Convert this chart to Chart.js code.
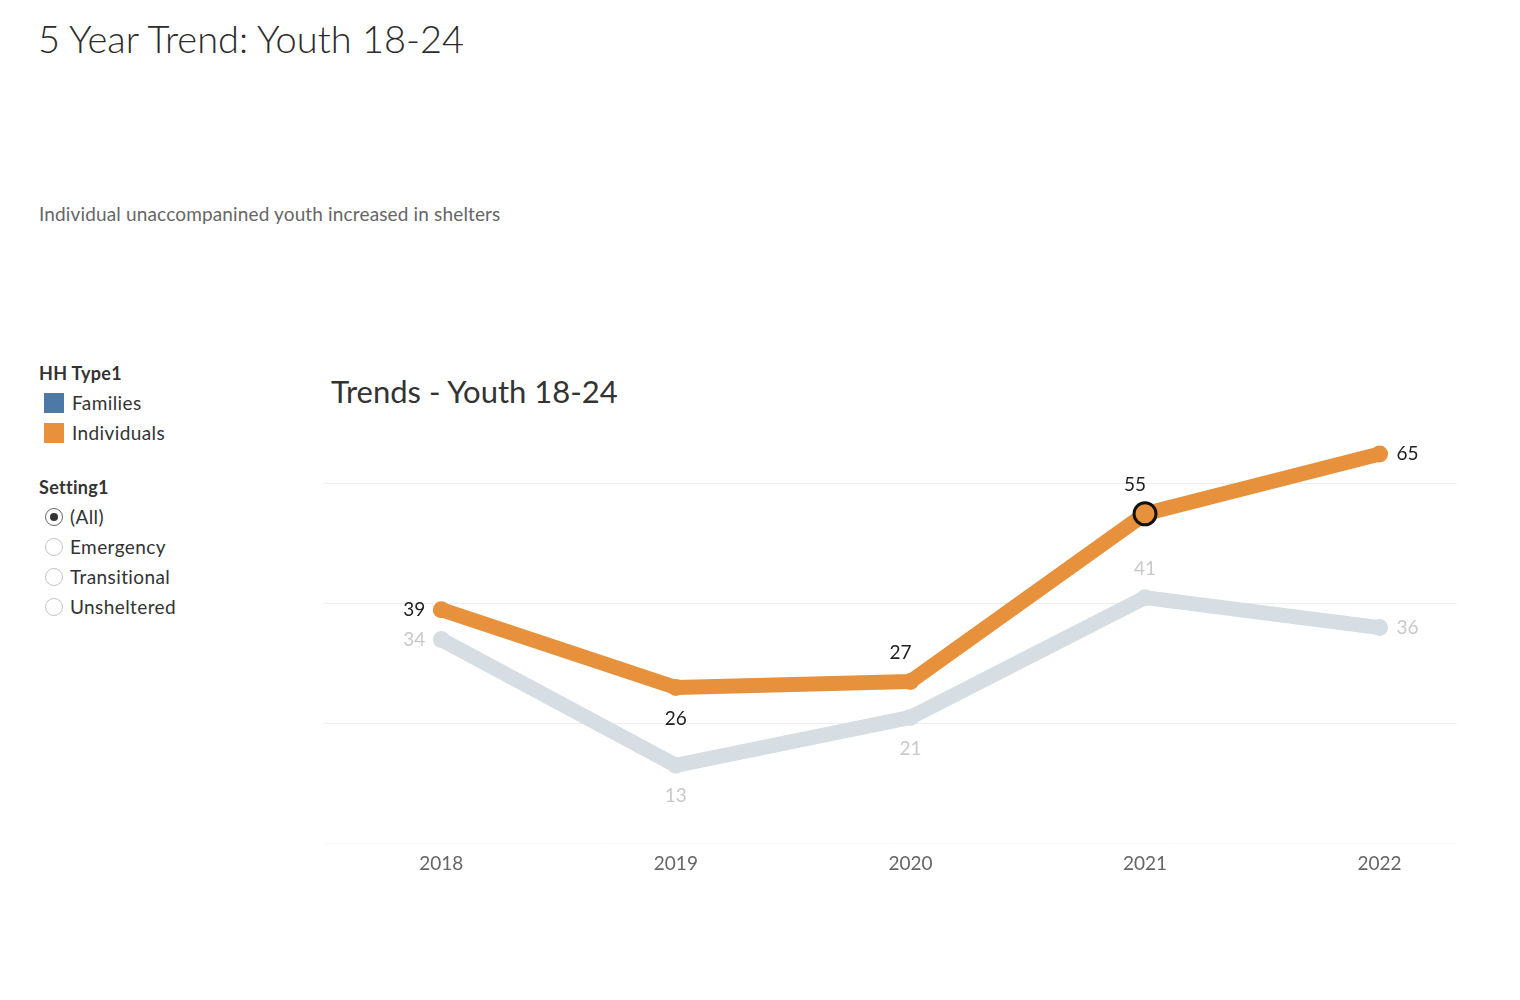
<!DOCTYPE html>
<html>
<head>
<meta charset="utf-8">
<script src="https://cdn.jsdelivr.net/npm/chart.js@4.4.1/dist/chart.umd.min.js"></script>
<style>
  body { margin: 0; background: #fff; font-family: Lato, sans-serif; color: #333; }
  .page { position: relative; width: 1520px; height: 1000px; }
  .title { position: absolute; left: 38px; top: 15px; font-size: 38px; font-weight: 300; color: #2b2b2b; white-space: nowrap; }
  .subtitle { position: absolute; left: 39px; top: 202px; font-size: 19px; letter-spacing: 0.15px; color: #666; white-space: nowrap; }
  .legend { position: absolute; left: 39px; top: 362px; font-size: 19px; letter-spacing: 0.4px; color: #333; }
  .legend h4 { margin: 0 0 4px 0; font-size: 18px; letter-spacing: 0.3px; font-weight: 700; color: #333; height: 22px; line-height: 22px; }
  .legend .row { height: 30px; line-height: 30px; display: flex; align-items: center; }
  .swatch { width: 20px; height: 20px; margin: 0 8px 0 5px; display: inline-block; }
  .radio { width: 18px; height: 18px; border: 1.5px solid #c4c4c4; border-radius: 50%; margin: 0 7px 0 6px; position: relative; box-sizing: border-box; }
  .radio.on { border-color: #666; }
  .radio.on::after { content: ""; position: absolute; left: 3.5px; top: 3.5px; width: 8px; height: 8px; border-radius: 50%; background: #333; }
  .charttitle { position: absolute; left: 331px; top: 372px; font-size: 31px; font-weight: 400; color: #333; white-space: nowrap; }
  .wrap { position: absolute; left: 300px; top: 400px; width: 1200px; height: 500px; }
</style>
</head>
<body>
<div class="page">
  <div class="title">5 Year Trend: Youth 18-24</div>
  <div class="subtitle">Individual unaccompanined youth increased in shelters</div>
  <div class="legend">
    <h4>HH Type1</h4>
    <div class="row"><span class="swatch" style="background:#4E79A7"></span>Families</div>
    <div class="row"><span class="swatch" style="background:#E8913C"></span>Individuals</div>
    <div style="height:28px"></div>
    <h4>Setting1</h4>
    <div class="row"><span class="radio on"></span>(All)</div>
    <div class="row"><span class="radio"></span>Emergency</div>
    <div class="row"><span class="radio"></span>Transitional</div>
    <div class="row"><span class="radio"></span>Unsheltered</div>
  </div>
  <div class="charttitle">Trends - Youth 18-24</div>
  <div class="wrap"><canvas id="trendChart" width="1200" height="500"></canvas></div>
</div>
<script>
// Chart data
const years = [2018, 2019, 2020, 2021, 2022];
const individuals = [39, 26, 27, 55, 65];
const families = [34, 13, 21, 41, 36];
const yTicks = [0, 20, 40, 60];
const highlightYear = 2021;

// where each value label sits relative to its point
const individualsLabelPos = ['left', 'below', 'above', 'above', 'right'];
const familiesLabelPos = ['left', 'below', 'below', 'above', 'right'];

const valueLabels = {
    id: 'valueLabels',
    afterDatasetsDraw(chart) {
        const ctx = chart.ctx;
        ctx.save();
        ctx.font = '19px Lato, sans-serif';
        ctx.textBaseline = 'middle';
        chart.data.datasets.forEach((ds, i) => {
            const meta = chart.getDatasetMeta(i);
            meta.data.forEach((pt, j) => {
                const pos = ds.labelPos[j];
                let x = pt.x, y = pt.y;
                ctx.textAlign = 'center';
                if (pos === 'left') { x -= 27; }
                if (pos === 'right') { x += 28; }
                if (pos === 'above') { y -= 29; x += ds.aboveShift; }
                if (pos === 'below') { y += 31; }
                ctx.fillStyle = ds.labelColor;
                ctx.fillText(ds.data[j].y, x, y);
            });
        });
        ctx.restore();
    }
};

document.addEventListener('DOMContentLoaded', function() {
    const ctx = document.getElementById('trendChart').getContext('2d');
    const highlightIdx = years.indexOf(highlightYear);

    const trendChart = new Chart(ctx, {
        type: 'line',
        data: {
            datasets: [
                {
                    label: 'Individuals',
                    data: years.map((y, i) => ({ x: y, y: individuals[i] })),
                    borderColor: '#E8913C',
                    backgroundColor: '#E8913C',
                    borderWidth: 15,
                    borderCapStyle: 'round',
                    borderJoinStyle: 'round',
                    pointRadius: c => c.dataIndex === highlightIdx ? 11 : 8.5,
                    pointBorderWidth: c => c.dataIndex === highlightIdx ? 3 : 0,
                    pointBorderColor: '#111',
                    pointBackgroundColor: '#E8913C',
                    labelPos: individualsLabelPos,
                    labelColor: '#222',
                    aboveShift: -10
                },
                {
                    label: 'Families',
                    data: years.map((y, i) => ({ x: y, y: families[i] })),
                    borderColor: '#D6DEE4',
                    backgroundColor: '#D6DEE4',
                    borderWidth: 15,
                    borderCapStyle: 'round',
                    borderJoinStyle: 'round',
                    pointRadius: 8.5,
                    pointBorderWidth: 0,
                    pointBackgroundColor: '#D6DEE4',
                    labelPos: familiesLabelPos,
                    labelColor: '#C9C9C9',
                    aboveShift: 0
                }
            ]
        },
        options: {
            responsive: false,
            animation: false,
            layout: {
                padding: { left: 24, right: 43, top: 24, bottom: 16 }
            },
            plugins: {
                legend: { display: false },
                tooltip: { enabled: false }
            },
            scales: {
                x: {
                    type: 'linear',
                    min: 2017.5,
                    max: 2022.33,
                    afterBuildTicks: s => { s.ticks = years.map(v => ({ value: v })); },
                    grid: { display: false, drawTicks: false },
                    border: { display: false },
                    ticks: {
                        padding: 9,
                        color: '#666',
                        font: { family: 'Lato, sans-serif', size: 19 },
                        callback: v => String(v)
                    }
                },
                y: {
                    min: 0,
                    max: 70,
                    afterBuildTicks: s => { s.ticks = yTicks.map(v => ({ value: v })); },
                    afterFit: s => { s.width = 0; },
                    ticks: { display: false },
                    border: { display: false },
                    grid: {
                        drawTicks: false,
                        color: c => c.tick && c.tick.value === 0 ? '#f8f8f8' : '#efefef',
                        lineWidth: 1
                    }
                }
            }
        },
        plugins: [valueLabels]
    });
});
</script>
</body>
</html>
